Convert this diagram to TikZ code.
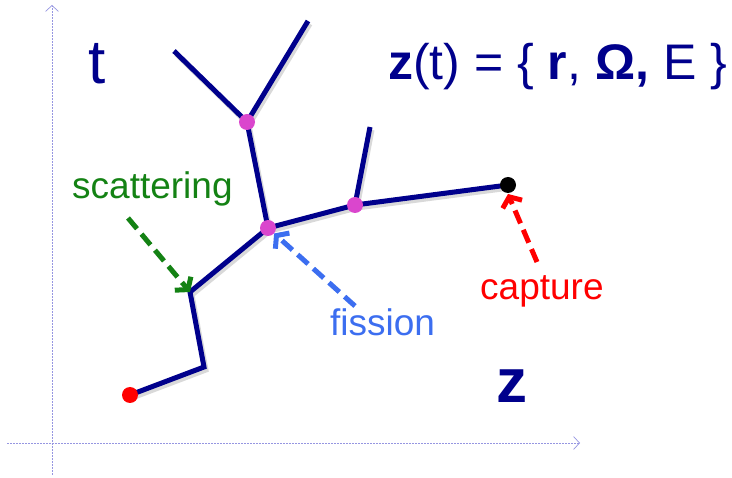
\documentclass[tikz,border=0pt]{standalone}
\usepackage{fontspec}
\setmainfont{Liberation Sans}
\usetikzlibrary{arrows.meta}
\definecolor{navy}{RGB}{0,0,140}
\definecolor{axiscol}{RGB}{150,150,225}
\definecolor{dotpink}{RGB}{218,70,205}
\definecolor{scatgreen}{RGB}{20,130,20}
\definecolor{fisblue}{RGB}{60,110,240}
\definecolor{capred}{RGB}{255,0,0}
\tikzset{
  axis/.style={draw=axiscol, line width=0.7pt, dash pattern=on 2pt off 1pt, -{Straight Barb[length=6pt,width=13pt,line width=0.7pt]}},
  traj/.style={draw=navy, line width=5pt,
    preaction={draw=black, opacity=0.15, line width=5pt, transform canvas={shift={(2pt,-3pt)}}}},
  dot/.style={circle, inner sep=0pt, minimum size=16pt},
  evarrow/.style={line width=5pt, dash pattern=on 14pt off 7pt, -{Straight Barb[length=8pt,width=21pt]}},
  lab/.style={font=\fontsize{37}{42}\selectfont, anchor=base west, inner sep=0pt},
}
\begin{document}
\begin{tikzpicture}[x=1pt,y=-1pt]
\useasboundingbox (0,0) rectangle (732,478);
% axes
\coordinate (vb) at (52,475);
\coordinate (vt) at (52,5);
\coordinate (hl) at (7,443);
\coordinate (hr) at (580,443);
\draw[axis] (vb) -- (vt);
\draw[axis] (hl) -- (hr);
% trajectory points
\coordinate (p0) at (130,395);
\coordinate (p1) at (204,367);
\coordinate (ps) at (190,292);
\coordinate (pf) at (268,228);
\coordinate (pu) at (247,122);
\coordinate (pl) at (174,51);
\coordinate (pr) at (308,21);
\coordinate (pm) at (355,205);
\coordinate (pt) at (370,127);
\coordinate (pc) at (508,185);
\draw[traj] (p0) -- (p1) -- (ps) -- (pf) -- (pu) -- (pl);
\draw[traj] (pu) -- (pr);
\draw[traj] (pf) -- (pm) -- (pc);
\draw[traj] (pm) -- (pt);
% dots
\node[dot, fill=capred] (d0) at (p0) {};
\node[dot, fill=dotpink] (du) at (pu) {};
\node[dot, fill=dotpink] (df) at (pf) {};
\node[dot, fill=dotpink] (dm) at (pm) {};
\node[dot, fill=black] (dc) at (pc) {};
% labels
\node[text=navy, font=\fontsize{62}{62}\selectfont] (tlab) at (97,64) {t};
\node[text=navy, font=\fontsize{50}{55}\selectfont, anchor=base west, inner sep=0pt] (title) at (388,80)
  {\textbf{z}(t) = \{ \textbf{r}, \textbf{Ω,} E \}};
\node[text=navy, font=\fontsize{62}{62}\selectfont\bfseries, anchor=base west, inner sep=0pt] (zlab) at (496,403) {z};
\node[lab, text=scatgreen] (scat) at (72,199) {scattering};
\node[lab, text=fisblue] (fis) at (330,336) {fission};
\node[lab, text=capred] (cap) at (480,300) {capture};
% event arrows
\coordinate (gs) at (128,218);
\coordinate (bs) at (355,306);
\coordinate (rs) at (537,262);
\coordinate (rt) at (508,194);
\draw[evarrow, draw=scatgreen] (gs) -- (ps);
\draw[evarrow, draw=fisblue] (bs) -- (df);
\draw[evarrow, draw=capred] (rs) -- (rt);
\end{tikzpicture}
\end{document}
